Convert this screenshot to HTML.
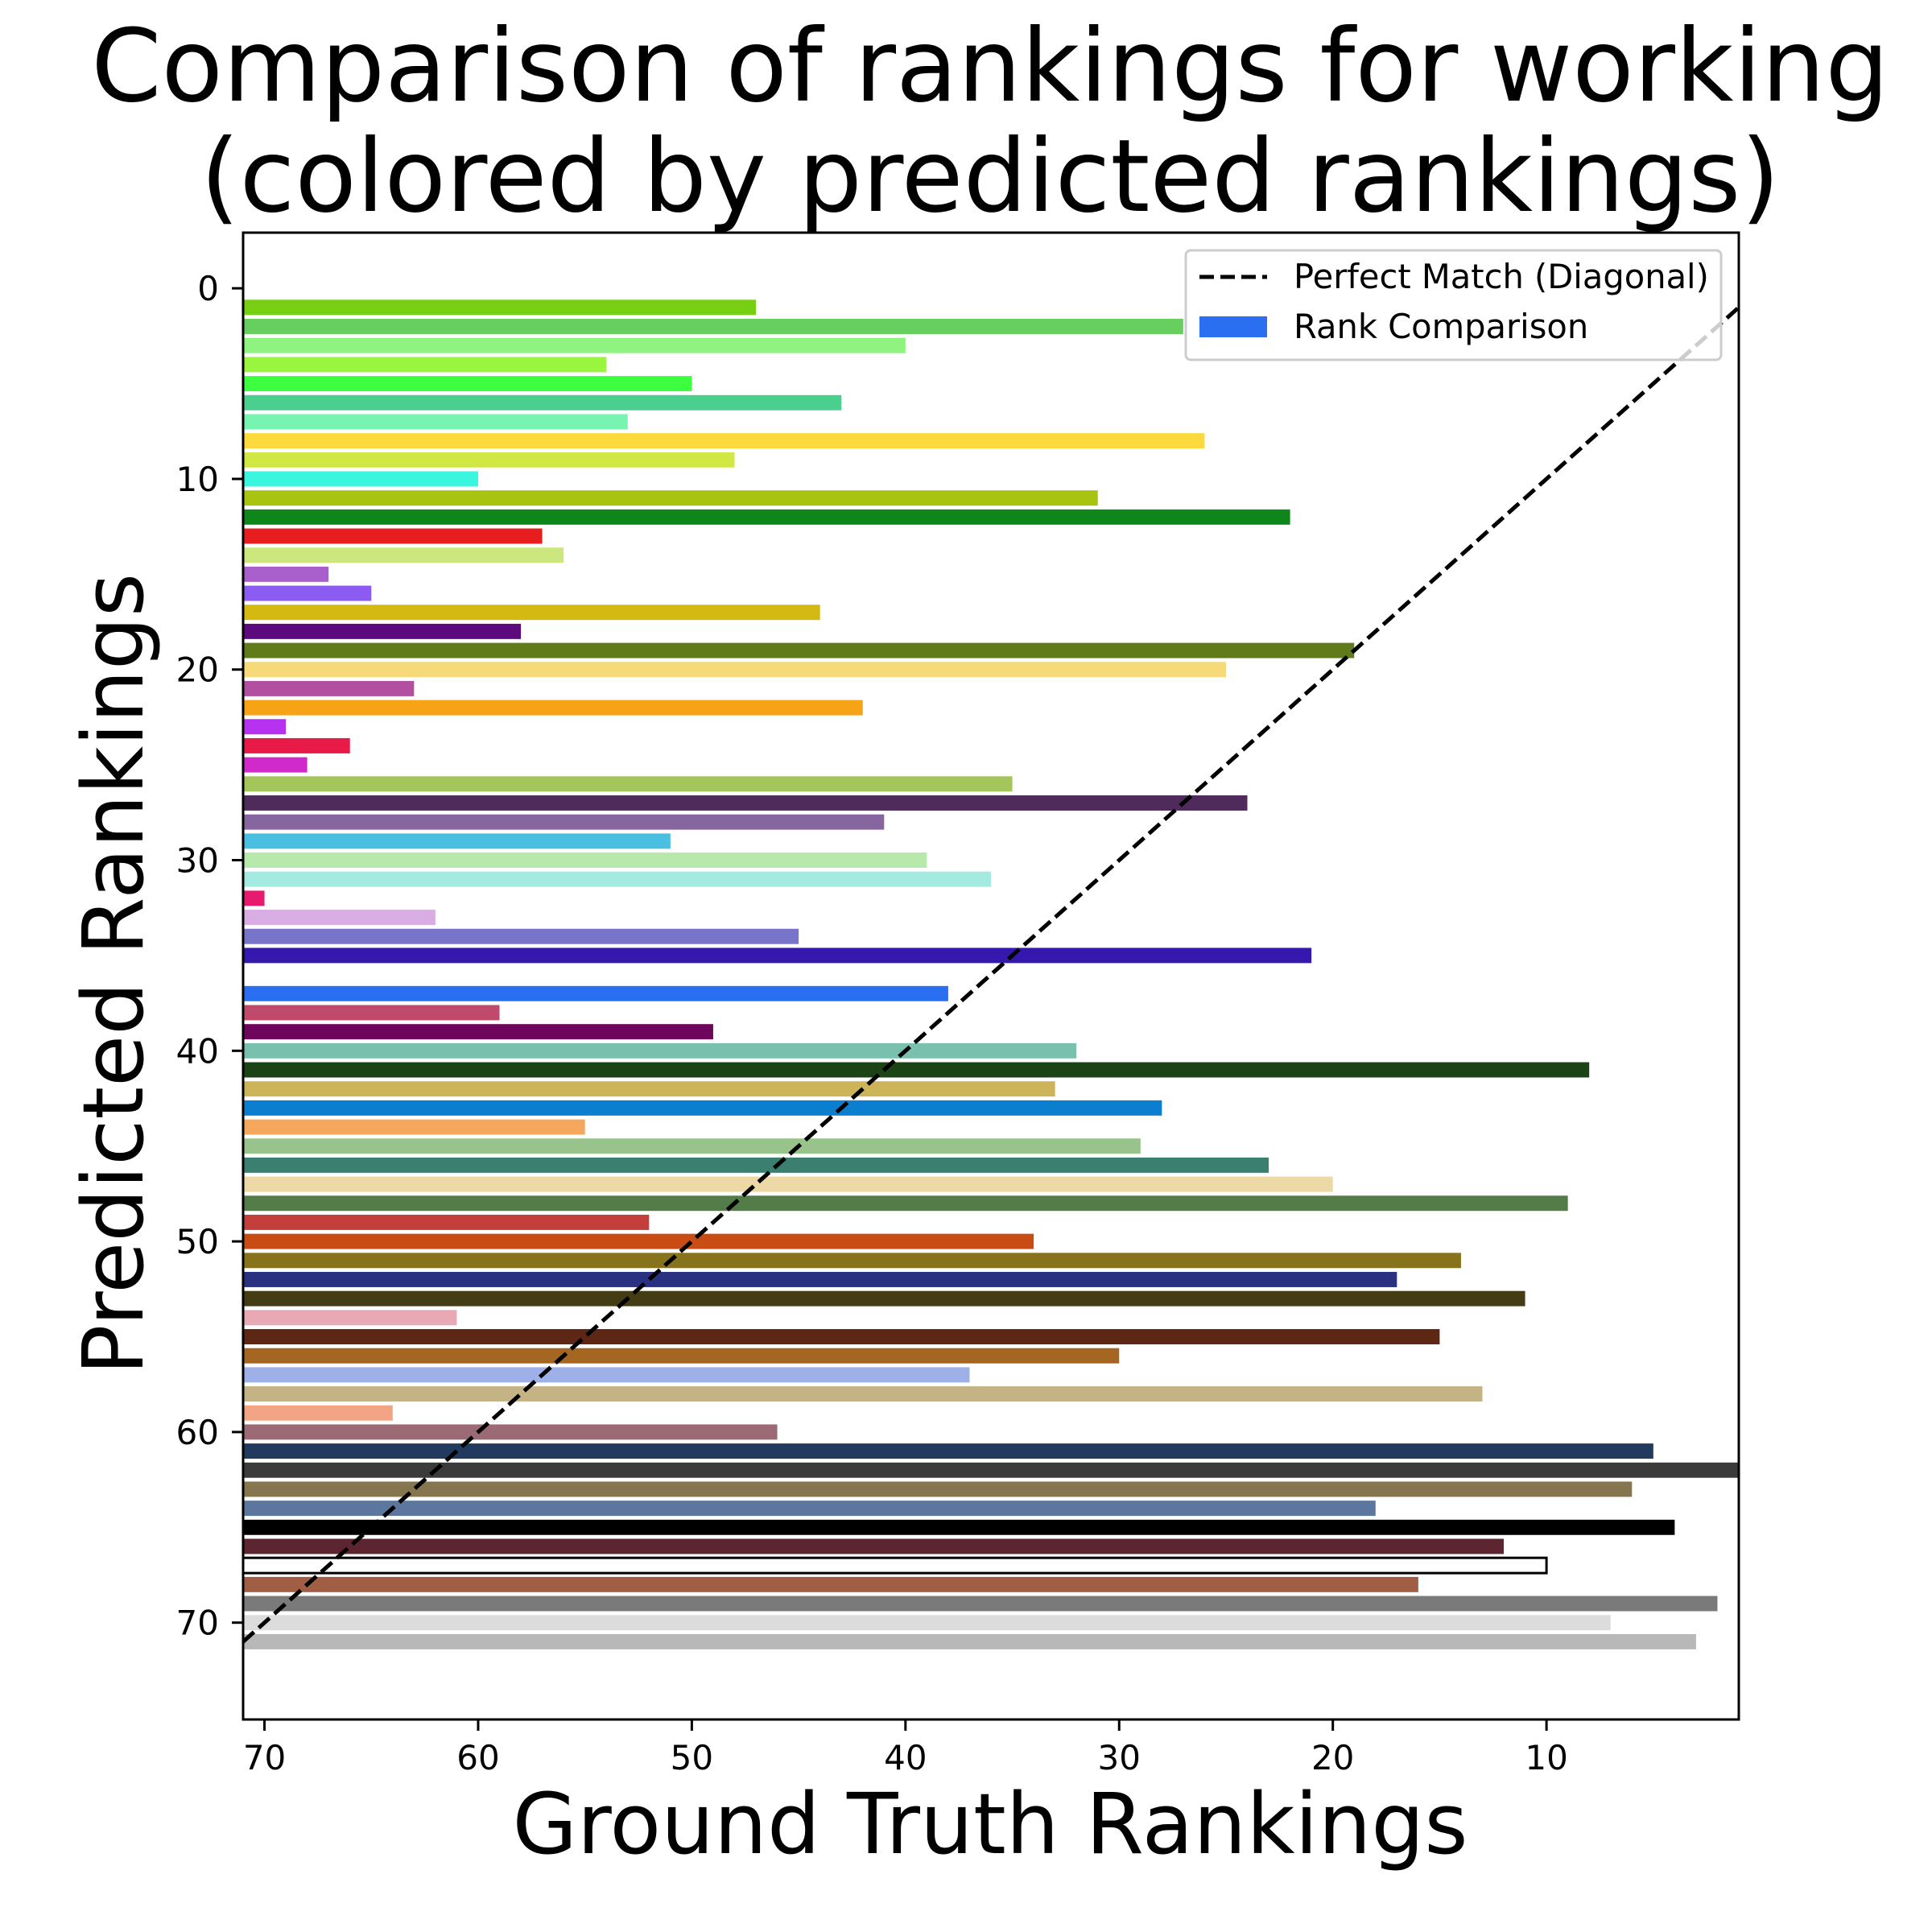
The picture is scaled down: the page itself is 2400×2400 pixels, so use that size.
<!DOCTYPE html>
<html><head><meta charset="utf-8"><style>
html,body{margin:0;padding:0;background:#fff;}
svg{display:block;font-family:"DejaVu Sans","Liberation Sans",sans-serif;}
</style></head><body>
<svg id="chart" width="2400" height="2400" viewBox="0 0 2400 2400" xmlns="http://www.w3.org/2000/svg">
<rect width="2400" height="2400" fill="#fff"/>
<text x="1230" y="125" font-size="125" text-anchor="middle">Comparison of rankings for working</text>
<text x="1230" y="262" font-size="125" text-anchor="middle">(colored by predicted rankings)</text>
<g id="bars"></g>
<g id="diag"></g>
<rect x="302" y="289" width="1858" height="1847" fill="none" stroke="#000" stroke-width="3"/>
<g id="xticks"></g>
<g id="yticks"></g>
<text x="1230" y="2302" font-size="104" text-anchor="middle">Ground Truth Rankings</text>
<text transform="translate(177,1210) rotate(-90)" font-size="104" text-anchor="middle">Predicted Rankings</text>
<g>
<rect x="1473" y="311" width="665" height="136" rx="6" fill="#fff" fill-opacity="0.8" stroke="#ccc" stroke-width="3"/>
<line x1="1490" y1="344" x2="1574" y2="344" stroke="#000" stroke-width="5" stroke-dasharray="18,8"/>
<text x="1607" y="358" font-size="41.6">Perfect Match (Diagonal)</text>
<rect x="1490" y="393" width="84" height="26" fill="#2a6ff2"/>
<text x="1607" y="420" font-size="41.6">Rank Comparison</text>
</g>
</svg>
<script>
const predicted = [];
for (let i = 1; i <= 71; i++) predicted.push(i);
const groundTruth = [47,27,40,54,50,43,53,26,48,60,31,22,57,56,67,65,44,58,19,25,63,42,69,66,68,35,24,41,51,39,36,70,62,45,21,71,38,59,49,32,8,33,28,55,29,23,20,9,52,34,14,17,11,61,15,30,37,13,64,46,5,1,6,18,4,12,10,16,2,7,3];
const colors = ["#76cf12","#66cf5e","#8ef47f","#9af540","#3cff40","#4bcf8e","#77f4b0","#fcda3e","#d1e744","#3af5e0","#a9c410","#0f861a","#e81e1e","#cce77e","#a85ecb","#8c5cf2","#d5b913","#5c0a7d","#617b1a","#f6da7a","#b24fa0","#f6a315","#b732f0","#e81a48","#d02acb","#a4c45c","#4f2b5b","#87659e","#4bbfe2","#b7e8ac","#a3ebe1","#e81a6e","#d7ade3","#7874ca","#3519ae","#888888","#2a6ff2","#bf4a6b","#6e065d","#79c1ae","#1b4315","#cdb458","#0b7ecf","#f6a75e","#98c48b","#3a7f70","#ecd9a6","#547c48","#c43f3c","#c84c14","#87731c","#2b3181","#433c14","#e8a9b5","#5e2714","#a46620","#9eb0e8","#c4b485","#f2a484","#9c6a75","#213a5d","#3b3b3b","#867650","#5d769e","#000000","#5c2530","#ffffff","#a05e45","#7a7a7a","#dcdcdc","#b8b8b8"];
const xTicks = [70,60,50,40,30,20,10];
const yTicks = [0,10,20,30,40,50,60,70];

const NS = "http://www.w3.org/2000/svg";
const X0 = 71, X1 = 1, PX0 = 302, PX1 = 2160;
const Y0 = -2.92, Y1 = 75.08, PY0 = 289, PY1 = 2136;
function sx(v){ return PX0 + (X0 - v) / (X0 - X1) * (PX1 - PX0); }
function sy(v){ return PY0 + (v - Y0) / (Y1 - Y0) * (PY1 - PY0); }
function mk(tag, attrs){ const e = document.createElementNS(NS, tag); for (const k in attrs) e.setAttribute(k, attrs[k]); return e; }

const bars = document.getElementById('bars');
const bh = sy(0.8) - sy(0);
predicted.forEach((p, i) => {
  const g = groundTruth[i];
  const xa = sx(X0), xb = Math.min(sx(g), PX1);
  const r = mk('rect', {x: xa, y: sy(p) - bh/2, width: Math.max(0, xb - xa), height: bh, fill: colors[i]});
  if (colors[i] === '#ffffff') { r.setAttribute('stroke', '#000'); r.setAttribute('stroke-width', '3'); }
  
  
  bars.appendChild(r);
});

const diag = document.getElementById('diag');
const dl = mk('line', {x1: sx(71), y1: sy(71), x2: sx(1), y2: sy(1), stroke: '#000', 'stroke-width': 5, 'stroke-dasharray': '18,8'});


diag.appendChild(dl);

const xt = document.getElementById('xticks');
xTicks.forEach(v => {
  const x = sx(v);
  const t = mk('line', {x1: x, y1: PY1, x2: x, y2: PY1 + 14, stroke: '#000', 'stroke-width': 3});
  
  
  xt.appendChild(t);
  const l = mk('text', {x: x, y: 2198, 'font-size': 42, 'text-anchor': 'middle'});
  l.textContent = v;
  
  
  xt.appendChild(l);
});
const yt = document.getElementById('yticks');
yTicks.forEach(v => {
  const y = sy(v);
  const t = mk('line', {x1: PX0 - 14, y1: y, x2: PX0, y2: y, stroke: '#000', 'stroke-width': 3});
  
  
  yt.appendChild(t);
  const l = mk('text', {x: 272, y: y + 15, 'font-size': 42, 'text-anchor': 'end'});
  l.textContent = v;
  
  
  yt.appendChild(l);
});
</script>
</body></html>
